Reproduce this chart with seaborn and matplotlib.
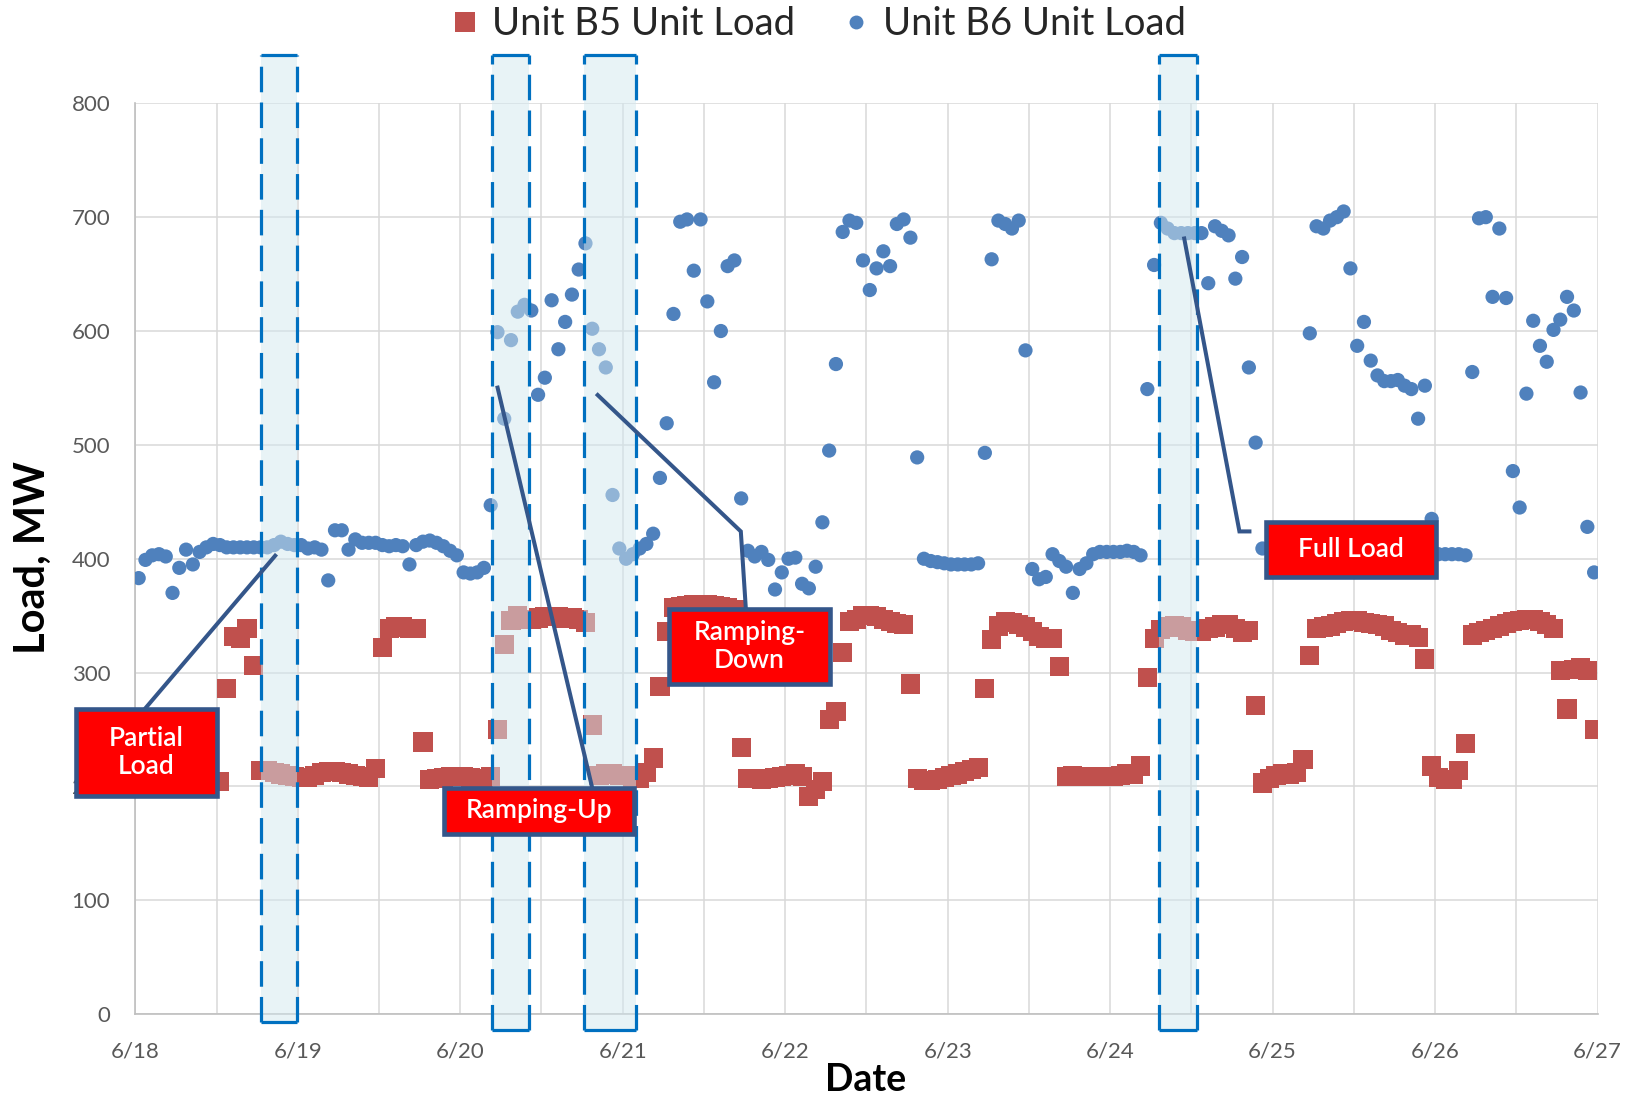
import numpy as np
import pandas as pd
import matplotlib
matplotlib.use("Agg")
import matplotlib.pyplot as plt
import seaborn as sns
from matplotlib.patches import Rectangle
from matplotlib.lines import Line2D

nan = np.nan

# Hourly unit loads (MW), 6/18 00:00 through 6/26 23:00
b5_load = [
    nan, nan, nan, nan, nan, nan, nan, nan, nan, nan, nan, nan,
    204, 286, 332, 330, 339, 306, 214, 214, 212, 211, 210, 209,
    208, 208, 210, 212, 213, 213, 212, 211, 210, 209, 208, 216,
    322, 339, 340, 340, 339, 339, 239, 206, 207, 208, 209, 209,
    209, 208, 207, 207, 209, 250, 325, 346, 350, 347, 347, 348,
    349, 349, 349, 348, 348, 347, 344, 254, 210, 211, 211, 210,
    210, 208, 207, 212, 225, 288, 336, 357, 358, 359, 360, 360,
    360, 359, 358, 357, 355, 234, 207, 207, 206, 207, 208, 209,
    210, 211, 209, 191, 197, 204, 259, 266, 318, 345, 347, 350,
    350, 349, 347, 345, 343, 342, 290, 207, 205, 205, 206, 208,
    210, 211, 213, 215, 217, 286, 329, 341, 345, 344, 342, 340,
    336, 332, 330, 330, 305, 209, 210, 209, 209, 209, 209, 209,
    209, 210, 211, 211, 218, 296, 330, 338, 340, 341, 340, 337,
    336, 336, 339, 340, 342, 342, 339, 335, 337, 271, 203, 207,
    210, 211, 211, 212, 224, 315, 339, 340, 341, 343, 345, 346,
    346, 344, 343, 342, 341, 337, 335, 333, 333, 331, 312, 218,
    208, 206, 206, 214, 238, 333, 335, 337, 339, 341, 343, 345,
    346, 347, 347, 345, 342, 339, 302, 268, 303, 304, 302, 250,
]

b6_load = [
    383, 399, 403, 404, 402, 370, 392, 408, 395, 406, 410, 413,
    412, 410, 410, 410, 410, 410, 410, 410, 412, 415, 413, 412,
    412, 409, 410, 408, 381, 425, 425, 408, 417, 414, 414, 414,
    412, 411, 412, 411, 395, 412, 415, 416, 414, 411, 407, 403,
    388, 387, 388, 392, 447, 599, 523, 592, 617, 623, 618, 544,
    559, 627, 584, 608, 632, 654, 677, 602, 584, 568, 456, 409,
    400, 404, 409, 413, 422, 471, 519, 615, 696, 698, 653, 698,
    626, 555, 600, 657, 662, 453, 407, 402, 406, 399, 373, 388,
    400, 401, 378, 374, 393, 432, 495, 571, 687, 697, 695, 662,
    636, 655, 670, 657, 694, 698, 682, 489, 400, 398, 397, 396,
    395, 395, 395, 395, 396, 493, 663, 697, 694, 690, 697, 583,
    391, 382, 384, 404, 398, 393, 370, 391, 396, 404, 406, 406,
    406, 406, 407, 406, 403, 549, 658, 695, 690, 686, 686, 686,
    686, 686, 642, 692, 688, 684, 646, 665, 568, 502, 409, nan,
    nan, nan, nan, nan, nan, 598, 692, 690, 697, 700, 705, 655,
    587, 608, 574, 561, 556, 556, 557, 552, 549, 523, 552, 435,
    404, 404, 404, 404, 403, 564, 699, 700, 630, 690, 629, 477,
    445, 545, 609, 587, 573, 601, 610, 630, 618, 546, 428, 388,
]

date_labels = ["6/18", "6/19", "6/20", "6/21", "6/22",
               "6/23", "6/24", "6/25", "6/26", "6/27"]
series_names = ["Unit B5 Unit Load", "Unit B6 Unit Load"]

# highlighted operating windows, in days after 6/18 00:00
window_start = [0.773, 2.196, 2.760, 6.301]
window_end = [0.994, 2.421, 3.079, 6.533]
window_bottom = [-7, -14, -14, -14]

hours = np.arange(len(b6_load))
day = (hours + 0.5) / 24.0
df = pd.concat([
    pd.DataFrame({"day": day, "load": b5_load, "unit": series_names[0]}),
    pd.DataFrame({"day": day, "load": b6_load, "unit": series_names[1]}),
]).dropna()

sns.set_theme(style="white")
plt.rcParams["font.family"] = ["Lato", "DejaVu Sans"]

RED = "#C0504D"
BLUE = "#4F81BD"
GRID = "#D9D9D9"
EDGE = "#34568A"

fig = plt.figure(figsize=(16.36, 10.97), dpi=100)
ax = fig.add_axes([135.3 / 1636, 1 - 1014.2 / 1097,
                   (1597.5 - 135.3) / 1636, (1014.2 - 103.3) / 1097])

sns.scatterplot(data=df[df.unit == series_names[0]], x="day", y="load",
                marker="s", s=190, color=RED, edgecolor="none", linewidth=0,
                ax=ax, legend=False, zorder=3)
sns.scatterplot(data=df[df.unit == series_names[1]], x="day", y="load",
                marker="o", s=105, color=BLUE, edgecolor="none", linewidth=0,
                ax=ax, legend=False, zorder=3)

ax.set_xlim(0, 9)
ax.set_ylim(0, 800)
ax.set_xticks(range(len(date_labels)))
ax.set_xticklabels(date_labels)
ax.set_xticks(np.arange(0.5, 9, 1.0), minor=True)
ax.set_yticks(range(0, 801, 100))
ax.set_yticklabels([str(v) for v in range(0, 801, 100)])
ax.grid(True, which="both", axis="x", color=GRID, lw=1.1)
ax.grid(True, which="major", axis="y", color=GRID, lw=1.1)
ax.set_axisbelow(True)
ax.tick_params(axis="both", which="both", length=0, labelsize=16,
               labelcolor="#595959")
ax.tick_params(axis="x", pad=20)
ax.tick_params(axis="y", pad=18)
for side in ("top", "right"):
    ax.spines[side].set_visible(False)
for side in ("left", "bottom"):
    ax.spines[side].set_color("#BFBFBF")
    ax.spines[side].set_linewidth(1.2)
ax.set_xlabel("")
ax.set_ylabel("")

# translucent highlight windows drawn over the markers
for x0, x1, yb in zip(window_start, window_end, window_bottom):
    ax.add_patch(Rectangle((x0, yb), x1 - x0, 842 - yb, facecolor="#D3E8EF",
                           alpha=0.5, edgecolor="none", zorder=4,
                           clip_on=False))
    for xv in (x0, x1):
        ax.plot([xv, xv], [yb, 842], color="#0070C0", lw=2.3,
                ls=(0, (8.0, 3.2)), zorder=5, clip_on=False)
    for yv in (yb, 842):
        ax.plot([x0, x1], [yv, yv], color="#0070C0", lw=2.3, zorder=5,
                clip_on=False, solid_capstyle="butt")

# callouts
def callout(x0, x1, y0, y1, text, leader):
    lx, ly = zip(*leader)
    ax.plot(lx, ly, color=EDGE, lw=2.9, zorder=6, clip_on=False,
            solid_capstyle="butt", solid_joinstyle="miter")
    ax.add_patch(Rectangle((x0, y0), x1 - x0, y1 - y0, facecolor="#FF0000",
                           edgecolor=EDGE, lw=3.3, zorder=7, clip_on=False))
    ax.text((x0 + x1) / 2, (y0 + y1) / 2, text, color="white", fontsize=19,
            fontweight="semibold", ha="center", va="center",
            linespacing=1.15, zorder=8)

callout(-0.366, 0.500, 192, 268, "Partial\nLoad",
        [(0.058, 268), (0.869, 404)])
callout(1.900, 3.068, 158, 199, "Ramping-Up",
        [(2.227, 552), (2.812, 199)])
callout(3.286, 4.275, 290, 356, "Ramping-\nDown",
        [(2.837, 545), (3.727, 424), (3.758, 356)])
callout(6.958, 8.004, 384, 432, "Full Load",
        [(6.454, 683), (6.796, 424), (6.870, 424)])

fig.text(866 / 1636, 1 - 1080 / 1097, "Date", ha="center", va="center",
         fontsize=27, fontweight="bold", color="black")
fig.text(33 / 1636, 1 - 558 / 1097, "Load, MW", ha="center", va="center",
         rotation=90, fontsize=30, fontweight="bold", color="black")

handles = [
    Line2D([], [], marker="s", ls="none", color=RED, markersize=15,
           markeredgewidth=0),
    Line2D([], [], marker="o", ls="none", color=BLUE, markersize=10,
           markeredgewidth=0),
]
fig.legend(handles, series_names, loc="center", ncol=2, frameon=False,
           bbox_to_anchor=(818 / 1636, 1 - 24 / 1097), fontsize=27.5,
           handlelength=0.8, handletextpad=0.3, columnspacing=1.2,
           borderaxespad=0, borderpad=0)

fig.savefig("out.png", dpi=100)
